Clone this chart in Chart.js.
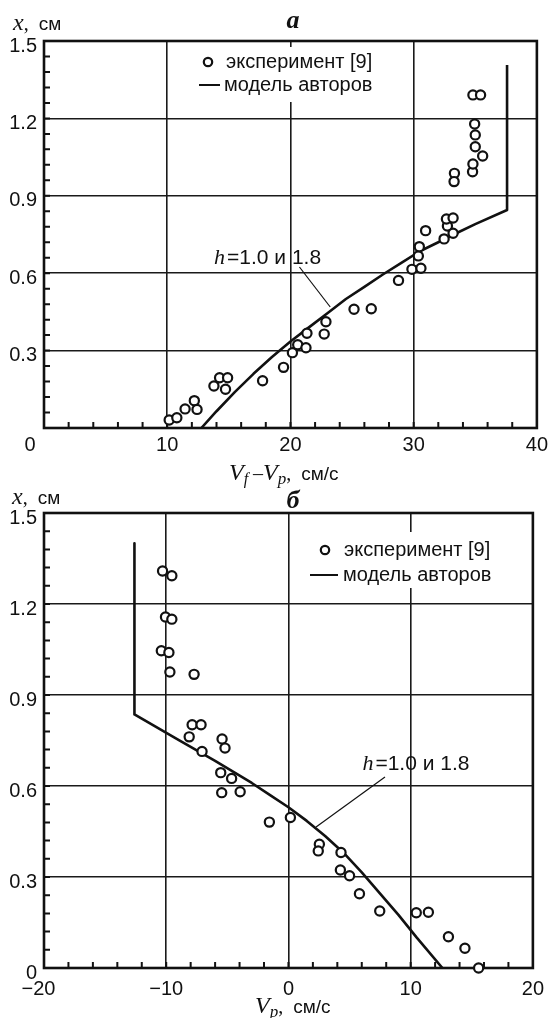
<!DOCTYPE html>
<html><head><meta charset="utf-8">
<script src="https://cdn.jsdelivr.net/npm/chart.js@4/dist/chart.umd.min.js"></script>
<style>
html,body{margin:0;padding:0;background:#fff;}
#wrap{position:relative;width:553px;height:1018px;overflow:hidden;background:#fff;}
#c1{position:absolute;left:0;top:0;}
#c2{position:absolute;left:0;top:485px;}
</style></head><body>
<div id="wrap">
<canvas id="c1" width="553" height="495"></canvas>
<canvas id="c2" width="553" height="533"></canvas>
</div>
<script>
// ---------- DATA ----------
const xTicksA = [0, 10, 20, 30, 40];
const xTicksB = [-20, -10, 0, 10, 20];
const yTicks = [0, 0.3, 0.6, 0.9, 1.2, 1.5];
const yLabels = ['0', '0.3', '0.6', '0.9', '1.2', '1.5'];
const xLabelsA = ['0', '10', '20', '30', '40'];
const xLabelsB = ['\u221220', '\u221210', '0', '10', '20'];

const expA_x = [10.16,10.78,11.45,12.2,12.42,13.79,14.25,14.9,14.73,17.74,19.44,20.16,20.59,21.26,21.34,22.74,22.88,25.16,26.56,28.77,29.86,30.59,30.38,30.46,30.97,32.47,32.74,32.66,33.2,33.2,33.31,33.28,34.78,34.81,35.6,35.0,35.0,34.95,34.81,35.43];
const expA_y = [0.031,0.04,0.074,0.106,0.072,0.163,0.195,0.195,0.15,0.183,0.235,0.292,0.323,0.311,0.367,0.364,0.412,0.46,0.462,0.572,0.615,0.619,0.667,0.703,0.765,0.733,0.783,0.81,0.814,0.755,0.987,0.955,0.993,1.023,1.054,1.09,1.136,1.178,1.291,1.291];
const modelA_x = [12.77,14,15.5,17,18.5,20,21.5,23,24.5,26,27.5,29,30.5,32,33.5,35,37.58,37.58];
const modelA_y = [0,0.065,0.14,0.21,0.275,0.335,0.39,0.445,0.5,0.547,0.595,0.64,0.685,0.72,0.756,0.79,0.845,1.407];

const expB_x = [-10.3,-9.54,-10.06,-9.54,-10.4,-9.78,-9.7,-7.72,-7.88,-7.15,-8.12,-7.07,-5.43,-5.19,-5.54,-4.65,-5.46,-3.95,-1.56,0.16,2.53,2.44,4.3,4.25,5.0,5.81,7.47,10.46,11.45,13.09,14.44,15.56];
const expB_y = [1.309,1.293,1.157,1.15,1.046,1.04,0.976,0.968,0.802,0.802,0.762,0.714,0.755,0.725,0.644,0.625,0.578,0.581,0.481,0.496,0.408,0.386,0.381,0.323,0.304,0.245,0.188,0.182,0.184,0.103,0.065,0.0];
const modelB_x = [-12.6,-12.6,-9,-6,-3,-1.5,0,1.5,3,4.5,6,7.5,9,10.5,12.6];
const modelB_y = [1.40,0.836,0.752,0.683,0.61,0.57,0.53,0.485,0.435,0.38,0.315,0.245,0.175,0.1,0];

const legendLabels = ['эксперимент [9]', 'модель авторов'];
const annLabel = ['h', '=1.0 и 1.8'];
const minorStepX = 2, minorStepY = 0.06;

// ---------- STYLE ----------
const SANS = '"Liberation Sans", Arial, sans-serif';
const SERIF = '"Liberation Serif", "Times New Roman", serif';
const INK = '#111';

function richText(ctx, x, y, segs) {
  let cx = x;
  ctx.textBaseline = 'alphabetic';
  ctx.textAlign = 'left';
  for (const s of segs) {
    ctx.font = s.f;
    ctx.fillStyle = INK;
    ctx.fillText(s.t, cx, y + (s.dy || 0));
    cx += ctx.measureText(s.t).width + (s.gap || 0);
  }
}

const deco = {
  id: 'deco',
  beforeDatasetsDraw(chart, args, o) {
    const ctx = chart.ctx, a = chart.chartArea;
    const xs = chart.scales.x, ys = chart.scales.y;
    ctx.save();
    // minor ticks
    ctx.strokeStyle = INK; ctx.lineWidth = 2;
    ctx.beginPath();
    const nx = Math.round((xs.max - xs.min) / minorStepX);
    for (let i = 1; i < nx; i++) {
      const px = xs.getPixelForValue(xs.min + i * minorStepX);
      ctx.moveTo(px, a.bottom); ctx.lineTo(px, a.bottom - 6);
    }
    const ny = Math.round((ys.max - ys.min) / minorStepY);
    for (let i = 1; i < ny; i++) {
      const py = ys.getPixelForValue(ys.min + i * minorStepY);
      ctx.moveTo(a.left, py); ctx.lineTo(a.left + 6, py);
    }
    ctx.stroke();
    // frame
    ctx.lineWidth = 2.6;
    ctx.strokeRect(a.left, a.top, a.right - a.left, a.bottom - a.top);
    // legend
    const L = o.legend;
    ctx.fillStyle = '#fff';
    ctx.fillRect(L.box[0], L.box[1], L.box[2], L.box[3]);
    ctx.strokeStyle = INK; ctx.lineWidth = 2.2;
    ctx.beginPath(); ctx.arc(L.markX, L.row1, 4.2, 0, Math.PI * 2); ctx.stroke();
    ctx.lineWidth = 2;
    ctx.beginPath(); ctx.moveTo(L.line[0], L.row2); ctx.lineTo(L.line[1], L.row2); ctx.stroke();
    ctx.fillStyle = INK;
    ctx.font = '20px ' + SANS;
    ctx.textBaseline = 'middle'; ctx.textAlign = 'left';
    ctx.fillText(legendLabels[0], L.t1, L.row1);
    ctx.fillText(legendLabels[1], L.t2, L.row2);
    // annotation
    const A = o.ann;
    const tx = xs.getPixelForValue(A.x), ty = ys.getPixelForValue(A.y);
    richText(ctx, tx, ty + 7, [
      {t: annLabel[0], f: 'italic 22px ' + SERIF, gap: 2},
      {t: annLabel[1], f: '21px ' + SANS}
    ]);
    ctx.strokeStyle = INK; ctx.lineWidth = 1.2;
    ctx.beginPath();
    ctx.moveTo(xs.getPixelForValue(A.l1[0]), ys.getPixelForValue(A.l1[1]));
    ctx.lineTo(xs.getPixelForValue(A.l2[0]), ys.getPixelForValue(A.l2[1]));
    ctx.stroke();
    ctx.restore();
  },
  afterDraw(chart, args, o) {
    const ctx = chart.ctx;
    ctx.save();
    // y-axis caption
    richText(ctx, o.ycap.x, o.ycap.y, [
      {t: 'x', f: 'italic 24px ' + SERIF},
      {t: ',  ', f: '20px ' + SERIF},
      {t: 'см', f: '19px ' + SANS}
    ]);
    // panel letter
    ctx.font = 'bold italic 26px ' + SERIF;
    ctx.fillStyle = INK; ctx.textAlign = 'center'; ctx.textBaseline = 'alphabetic';
    ctx.fillText(o.letter.t, o.letter.x, o.letter.y);
    // x-axis caption
    richText(ctx, o.xcap.x, o.xcap.y, o.xcap.segs);
    ctx.restore();
  }
};

function pts(xa, ya) { return xa.map((x, i) => ({x: x, y: ya[i]})); }

function build(id, cfg) {
  return new Chart(document.getElementById(id), {
    type: 'scatter',
    data: {
      datasets: [
        {
          label: legendLabels[0], data: pts(cfg.ex, cfg.ey),
          pointRadius: 4.6, pointHoverRadius: 4.6, pointBorderWidth: 2.2,
          pointBackgroundColor: '#fff', pointBorderColor: INK, clip: false
        },
        {
          label: legendLabels[1], data: pts(cfg.mx, cfg.my), showLine: true,
          borderColor: INK, borderWidth: 2.6, pointRadius: 0, tension: 0, fill: false,
          borderJoinStyle: 'round'
        }
      ]
    },
    options: {
      responsive: false, animation: false, devicePixelRatio: 1,
      layout: {padding: {top: cfg.padTop, right: 13, left: 0, bottom: 0}},
      plugins: {legend: {display: false}, tooltip: {enabled: false}, deco: cfg.deco},
      scales: {
        x: {
          type: 'linear', min: cfg.xTicks[0], max: cfg.xTicks[cfg.xTicks.length - 1],
          afterBuildTicks: s => { s.ticks = cfg.xTicks.map(v => ({value: v})); },
          afterFit: s => { s.height = cfg.xH; },
          ticks: {
            autoSkip: false, maxRotation: 0, padding: cfg.xPad, color: INK,
            font: {family: SANS, size: 20},
            callback: (v) => { const i = cfg.xTicks.indexOf(v); return i < 0 ? '' : (i === 0 ? cfg.xLabels[0] + cfg.firstPad : cfg.xLabels[i]); }
          },
          grid: {color: '#1a1a1a', lineWidth: 1.6, drawTicks: false},
          border: {display: false}
        },
        y: {
          type: 'linear', min: 0, max: 1.5,
          afterBuildTicks: s => { s.ticks = yTicks.map(v => ({value: v})); },
          afterFit: s => { s.width = 44; },
          ticks: {
            autoSkip: false, padding: 7, color: INK, labelOffset: 5,
            font: {family: SANS, size: 20},
            callback: (v) => { const i = yTicks.indexOf(v); if (i < 0) return ''; if (i === 0 && cfg.hideY0) return ''; return yLabels[i]; }
          },
          grid: {color: '#1a1a1a', lineWidth: 1.6, drawTicks: false},
          border: {display: false}
        }
      }
    },
    plugins: [deco]
  });
}

build('c1', {
  ex: expA_x, ey: expA_y, mx: modelA_x, my: modelA_y,
  xTicks: xTicksA, xLabels: xLabelsA, firstPad: '     ', hideY0: true,
  padTop: 41, xH: 67, xPad: 5,
  deco: {
    legend: {box: [188, 47, 200, 55], markX: 208, row1: 62, row2: 85, t1: 226, t2: 224, line: [199, 220]},
    ann: {x: 13.8, y: 0.663, l1: [20.73, 0.624], l2: [23.23, 0.469]},
    ycap: {x: 13, y: 30},
    letter: {t: 'a', x: 293, y: 28},
    xcap: {x: 229, y: 480, segs: [
      {t: 'V', f: 'italic 24px ' + SERIF},
      {t: 'f', f: 'italic 16px ' + SERIF, dy: 4},
      {t: ' \u2013', f: '20px ' + SERIF},
      {t: 'V', f: 'italic 24px ' + SERIF},
      {t: 'p', f: 'italic 17px ' + SERIF, dy: 4},
      {t: ',  ', f: '20px ' + SERIF},
      {t: 'см/с', f: '19px ' + SANS}
    ]}
  }
});

build('c2', {
  ex: expB_x, ey: expB_y, mx: modelB_x, my: modelB_y,
  xTicks: xTicksB, xLabels: xLabelsB, firstPad: '  ', hideY0: false,
  padTop: 28, xH: 50, xPad: 9,
  deco: {
    legend: {box: [300, 47, 205, 56], markX: 325, row1: 65, row2: 90, t1: 344, t2: 343, line: [310, 338]},
    ann: {x: 6.05, y: 0.676, l1: [7.9, 0.63], l2: [2.26, 0.465]},
    ycap: {x: 12, y: 19},
    letter: {t: 'б', x: 293, y: 23},
    xcap: {x: 255, y: 528, segs: [
      {t: 'V', f: 'italic 24px ' + SERIF},
      {t: 'p', f: 'italic 17px ' + SERIF, dy: 4},
      {t: ',  ', f: '20px ' + SERIF},
      {t: 'см/с', f: '19px ' + SANS}
    ]}
  }
});
</script>
</body></html>
